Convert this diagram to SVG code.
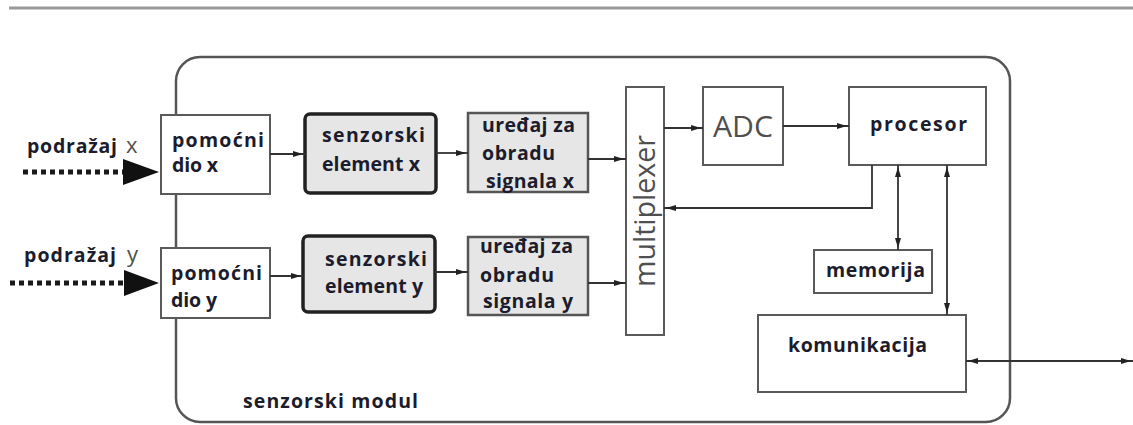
<svg xmlns="http://www.w3.org/2000/svg" width="1133" height="425" viewBox="0 0 1133 425">
<style>
  .lbl { font-family: "Open Sans", "DejaVu Sans", sans-serif; font-weight: 700; font-size: 19.5px; fill: #1c1c2c; }
  .grey { font-family: "Open Sans", "DejaVu Sans", sans-serif; font-weight: 400; fill: #4f4f4f; }
  .box { fill: #ffffff; stroke: #5a5a5a; stroke-width: 2; }
  .gbox { fill: #e6e6e6; stroke: #555555; stroke-width: 2.5; }
  .sbox { fill: #e6e6e6; stroke: #222222; stroke-width: 3.5; }
  .ln { fill: none; stroke: #333333; stroke-width: 1.8; }
</style>
<defs>
  <marker id="ah" viewBox="0 0 10 6" markerUnits="userSpaceOnUse" markerWidth="11" markerHeight="6" refX="12" refY="3" orient="auto-start-reverse">
    <path d="M0,0 L10,3 L0,6 Z" fill="#222222"/>
  </marker>
</defs>
<rect width="1133" height="425" fill="#ffffff"/>
<line x1="9" y1="8" x2="1133" y2="8" stroke="#9a9a9a" stroke-width="3"/>

<g id="senzorski-modul">
  <rect x="176" y="57" width="834" height="365" rx="24" ry="24" fill="none" stroke="#555555" stroke-width="2.5"/>
  <text class="lbl" x="243" y="408" textLength="175" lengthAdjust="spacing">senzorski modul</text>
</g>

<g id="podrazaj-x">
  <text class="lbl" x="27" y="153" textLength="90" lengthAdjust="spacing">podražaj</text>
  <text class="grey" x="126" y="153" font-size="22">x</text>
  <line x1="23" y1="172" x2="124" y2="172" stroke="#1a1a1a" stroke-width="5" stroke-dasharray="5 4"/>
  <path d="M123,159 L159,172 L123,185 Z" fill="#111111"/>
</g>
<g id="podrazaj-y">
  <text class="lbl" x="24" y="262" textLength="92" lengthAdjust="spacing">podražaj</text>
  <text class="grey" x="127" y="262" font-size="22">y</text>
  <line x1="10" y1="283" x2="124" y2="283" stroke="#1a1a1a" stroke-width="5" stroke-dasharray="5 4"/>
  <path d="M124,270 L159,283 L124,296 Z" fill="#111111"/>
</g>

<g id="pomocni-x">
  <rect class="box" x="161" y="115" width="109" height="79"/>
  <text class="lbl" x="172" y="147" textLength="92" lengthAdjust="spacing">pomoćni</text>
  <text class="lbl" x="172" y="172" textLength="46" lengthAdjust="spacing">dio x</text>
</g>
<g id="pomocni-y">
  <rect class="box" x="161" y="248" width="109" height="70"/>
  <text class="lbl" x="171" y="280" textLength="91" lengthAdjust="spacing">pomoćni</text>
  <text class="lbl" x="171" y="307" textLength="46" lengthAdjust="spacing">dio y</text>
</g>

<g id="senzorski-element-x">
  <rect class="sbox" x="305" y="114" width="131" height="79" rx="5" ry="5"/>
  <text class="lbl" x="322" y="142" textLength="103" lengthAdjust="spacing">senzorski</text>
  <text class="lbl" x="322" y="171" textLength="98" lengthAdjust="spacing">element x</text>
</g>
<g id="senzorski-element-y">
  <rect class="sbox" x="303" y="236" width="132" height="76" rx="5" ry="5"/>
  <text class="lbl" x="325" y="266" textLength="102" lengthAdjust="spacing">senzorski</text>
  <text class="lbl" x="325" y="293" textLength="98" lengthAdjust="spacing">element y</text>
</g>

<g id="uredaj-x">
  <rect class="gbox" x="468" y="113" width="120" height="79"/>
  <text class="lbl" x="482" y="132" textLength="93" lengthAdjust="spacing">uređaj za</text>
  <text class="lbl" x="482" y="160" textLength="73" lengthAdjust="spacing">obradu</text>
  <text class="lbl" x="486" y="188" textLength="88" lengthAdjust="spacing">signala x</text>
</g>
<g id="uredaj-y">
  <rect class="gbox" x="468" y="237" width="120" height="78"/>
  <text class="lbl" x="480" y="253" textLength="93" lengthAdjust="spacing">uređaj za</text>
  <text class="lbl" x="480" y="282" textLength="74" lengthAdjust="spacing">obradu</text>
  <text class="lbl" x="483" y="308" textLength="90" lengthAdjust="spacing">signala y</text>
</g>

<g id="multiplexer">
  <rect class="box" x="626" y="87" width="38" height="248"/>
  <text class="grey" font-size="29" text-anchor="middle" transform="translate(655,211) rotate(-90)" textLength="152" lengthAdjust="spacingAndGlyphs">multiplexer</text>
</g>

<g id="adc">
  <rect class="box" x="703" y="87" width="80" height="78"/>
  <text class="grey" x="743" y="137" font-size="29" text-anchor="middle" textLength="60" lengthAdjust="spacingAndGlyphs">ADC</text>
</g>

<g id="procesor">
  <rect class="box" x="849" y="87" width="137" height="78"/>
  <text class="lbl" x="870" y="131" textLength="97" lengthAdjust="spacing">procesor</text>
</g>

<g id="memorija">
  <rect class="box" x="814" y="250" width="118" height="43"/>
  <text class="lbl" x="826" y="277" textLength="99" lengthAdjust="spacing">memorija</text>
</g>

<g id="komunikacija">
  <rect class="box" x="758" y="315" width="208" height="77"/>
  <text class="lbl" x="788" y="352" textLength="139" lengthAdjust="spacing">komunikacija</text>
</g>

<g id="connectors">
  <line class="ln" x1="270" y1="154" x2="305" y2="154" marker-end="url(#ah)"/>
  <line class="ln" x1="270" y1="276" x2="303" y2="276" marker-end="url(#ah)"/>
  <line class="ln" x1="436" y1="153" x2="468" y2="153" marker-end="url(#ah)"/>
  <line class="ln" x1="435" y1="272" x2="468" y2="272" marker-end="url(#ah)"/>
  <line class="ln" x1="588" y1="159" x2="626" y2="159" marker-end="url(#ah)"/>
  <line class="ln" x1="588" y1="283" x2="626" y2="283" marker-end="url(#ah)"/>
  <line class="ln" x1="664" y1="128" x2="703" y2="128" marker-end="url(#ah)"/>
  <line class="ln" x1="783" y1="126" x2="849" y2="126" marker-end="url(#ah)"/>
  <polyline class="ln" points="872,165 872,208 664,208" marker-end="url(#ah)"/>
  <line class="ln" x1="898" y1="165" x2="898" y2="250" marker-start="url(#ah)" marker-end="url(#ah)"/>
  <line class="ln" x1="947" y1="165" x2="947" y2="315" marker-start="url(#ah)" marker-end="url(#ah)"/>
  <line class="ln" x1="966" y1="361" x2="1133" y2="361" marker-start="url(#ah)" marker-end="url(#ah)"/>
</g>
</svg>
